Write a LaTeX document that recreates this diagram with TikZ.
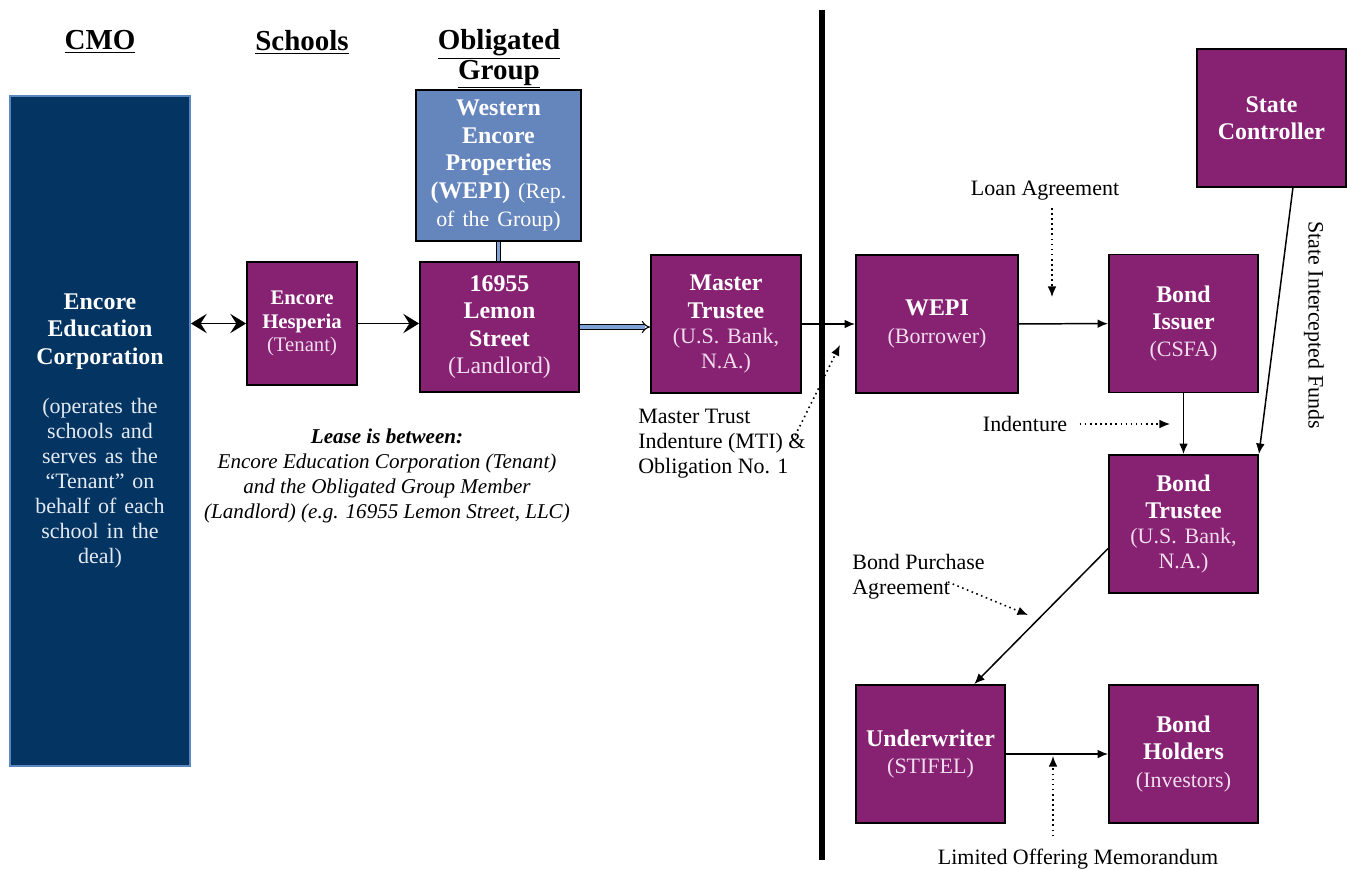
\documentclass[tikz,border=0pt]{standalone}
\usepackage{fontspec}
\setmainfont{Liberation Serif}
\usetikzlibrary{arrows.meta, positioning}
\definecolor{cmoblue}{HTML}{033462}
\definecolor{cmoedge}{HTML}{5B86C0}
\definecolor{wepiblue}{HTML}{6585BD}
\definecolor{boxpurple}{HTML}{872272}
\definecolor{lightpink}{HTML}{F2DDEE}
\definecolor{lightgrey}{HTML}{E4EAF2}
\definecolor{linkblue}{HTML}{7FA3D6}
\newcommand{\titlefont}{\fontsize{13.6}{15.6}\selectfont\bfseries}
\newcommand{\subfont}{\fontsize{12.5}{14.2}\selectfont\mdseries\color{lightpink}}
\newcommand{\notefont}{\fontsize{12.5}{14.2}\selectfont}

\begin{document}
\begin{tikzpicture}[x=0.02cm, y=-0.02cm]
    \tikzstyle{pbox}=[draw=black, line width=1.1pt, fill=boxpurple, text=white, align=center, font=\titlefont, inner sep=2pt, text width=2.7cm, minimum width=2.98cm, minimum height=2.76cm]
    \tikzstyle{head}=[font=\fontsize{16.5}{17}\selectfont\bfseries, align=center]
    \tikzstyle{note}=[font=\notefont, align=left, inner sep=0pt]
    \tikzstyle{flow}=[line width=0.85pt, -{Latex[length=6pt, width=5pt]}]
    \tikzstyle{hint}=[dotted, line width=0.9pt, -{Latex[length=6pt, width=5pt]}]
    \tikzstyle{lease}=[line width=0.9pt, -{Stealth[length=9pt, width=11pt, inset=3.5pt]}]
    \tikzstyle{dbl}=[draw=black, line width=0.6pt, double=linkblue, double distance=1.8pt]

    \useasboundingbox (0,0) rectangle (1348,869);

    % column headers
    \node[head] (cmohead) at (100,42) {\underline{CMO}};
    \node[head] (schoolhead) at (302,42) {\underline{Schools}};
    \node[head] (oghead) at (499,59) {\underline{Obligated}\\\underline{Group}};

    % left side
    \node[pbox, fill=cmoblue, draw=cmoedge, text width=3.3cm, minimum width=3.6cm, minimum height=13.4cm] (eec) at (100,431)
      {Encore\\Education\\Corporation\par\vspace{14pt}{\subfont\color{lightgrey}(operates the\\schools and\\serves as the\\``Tenant'' on\\behalf of each\\school in the\\deal)\par}};
    \node[pbox, fill=wepiblue, text width=3.1cm, minimum width=3.3cm, minimum height=3.02cm, font=\fontsize{13.6}{15.9}\selectfont\bfseries] (wepig) at (498.5,165.5)
      {Western\\Encore\\Properties\\(WEPI) {\mdseries\fontsize{12.5}{15.9}\selectfont (Rep.\\of the Group)}};
    \node[pbox, text width=2cm, minimum width=2.2cm, minimum height=2.46cm, font=\fontsize{11.8}{13.6}\selectfont\bfseries] (hesp) at (302,323.5)
      {Encore\\Hesperia\\{\subfont\fontsize{11.8}{13.6}\selectfont (Tenant)}};
    \node[pbox, text width=2.9cm, minimum width=3.18cm, minimum height=2.6cm] (lemon) at (499.5,327)
      {16955\\Lemon\\Street\\{\subfont\fontsize{13.5}{15.6}\selectfont (Landlord)}};
    \node[pbox, minimum width=3cm] (mtrustee) at (726,324) {Master\\Trustee\par{\subfont (U.S. Bank,\\N.A.)\par}};

    % right side
    \node[pbox, minimum width=3.24cm] (wepi) at (937,324) {WEPI\\{\subfont (Borrower)}};
    \node[pbox] (issuer) at (1183.5,323.5) {Bond\\Issuer\\{\subfont (CSFA)}};
    \node[pbox] (controller) at (1271.5,118) {State\\Controller};
    \node[pbox] (btrustee) at (1183.5,524) {Bond\\Trustee\par{\subfont (U.S. Bank,\\N.A.)\par}};
    \node[pbox] (underwriter) at (930.5,754) {Underwriter\\{\subfont (STIFEL)}};
    \node[pbox] (holders) at (1183.5,754) {Bond\\Holders\\{\subfont (Investors)}};

    % divider
    \draw[line width=3.4pt] (822,10) -- (822,860);

    % connectors
    \draw[lease, {Stealth[length=9pt, width=11pt, inset=3.5pt]}-{Stealth[length=9pt, width=11pt, inset=3.5pt]}] (eec.east |- hesp.west) -- (hesp.west);
    \draw[lease, line width=0.7pt] (hesp.east) -- (hesp.east -| lemon.west);
    \draw[dbl] (wepig.south) -- (wepig.south |- lemon.north);
    \draw[dbl, -Implies] (lemon.east) -- (lemon.east -| mtrustee.west);
    \draw[flow] (mtrustee) -- (wepi);
    \draw[flow] (wepi) -- (issuer);
    \draw[flow] (issuer) -- (btrustee);
    \draw[flow] (controller.-73.5) -- (btrustee.north east);
    \draw[flow] (btrustee.198) -- (underwriter.58.4);
    \draw[flow] (underwriter) -- (holders);

    % documents
    \node[note] (loan) at (1045,191) {Loan Agreement};
    \coordinate (loantip) at (1052,297);
    \draw[hint, shorten <=4pt] (loan.south -| loantip) -- (loantip);

    \node[note] (indent) at (1025,424) {Indenture};
    \coordinate (indtip) at (1170,424);
    \draw[hint, shorten <=7pt] (indent.east) -- (indtip);

    \node[note, anchor=north west] (mti) at (638,409) {Master Trust\\Indenture (MTI) \&\\Obligation No. 1};
    \coordinate (mtitail) at (793,440);
    \coordinate (mtitip) at (840,345);
    \draw[hint] (mtitail) -- (mtitip);

    \node[note, anchor=north west] (bpa) at (852,554) {Bond Purchase\\Agreement};
    \coordinate (bpatail) at (948,582);
    \coordinate (bpatip) at (1028,615);
    \draw[hint] (bpatail) -- (bpatip);

    \node[note] (lom) at (1078,859) {Limited Offering Memorandum};
    \coordinate (lomtip) at (1053,756);
    \draw[hint, shorten <=7pt] (lom.north -| lomtip) -- (lomtip);

    \node[note, rotate=-90] (sif) at (1314,325) {State Intercepted Funds};

    % lease remark
    \node[note, align=center, font=\fontsize{12}{14.3}\selectfont\itshape] (leasenote) at (387,476)
      {\textbf{Lease is between:}\\Encore Education Corporation (Tenant)\\and the Obligated Group Member\\(Landlord) (e.g. 16955 Lemon Street, LLC)};
\end{tikzpicture}
\end{document}
